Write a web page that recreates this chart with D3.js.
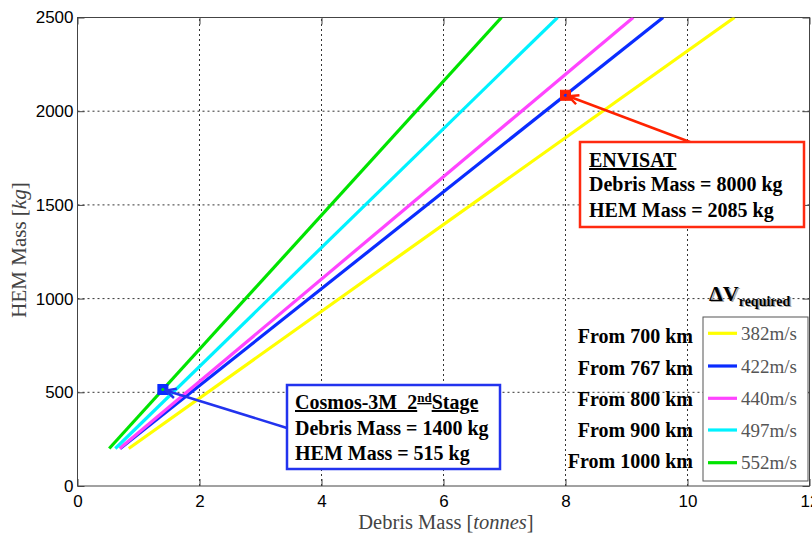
<!DOCTYPE html>
<html>
<head>
<meta charset="utf-8">
<script src="https://cdn.jsdelivr.net/npm/d3@7"></script>
<style>
  html, body { margin: 0; padding: 0; background: #fff; }
  svg { display: block; }
  text { white-space: pre; }
</style>
</head>
<body>
<svg id="chart" width="812" height="536"></svg>
<script>
// ---------------- data ----------------
const altitudeLabels = ["From 700 km", "From 767 km", "From 800 km", "From 900 km", "From 1000 km"];
const deltaVLabels = ["382m/s", "422m/s", "440m/s", "497m/s", "552m/s"];
// each series: [debris mass (tonnes), HEM mass (kg)] at both ends of its line
const series382 = [[0.84, 200], [10.77, 2500]];
const series422 = [[0.70, 200], [9.60, 2500]];
const series440 = [[0.69, 200], [9.11, 2500]];
const series497 = [[0.62, 200], [7.87, 2500]];
const series552 = [[0.52, 200], [6.95, 2500]];
const allSeries = [series382, series422, series440, series497, series552];
const xTicks = [0, 2, 4, 6, 8, 10, 12];
const yTicks = [0, 500, 1000, 1500, 2000, 2500];
const cosmosPoint = [1.4, 515];
const envisatPoint = [8.0, 2085];
const cosmosLines = ["Debris Mass = 1400 kg", "HEM Mass = 515 kg"];
const envisatLines = ["ENVISAT", "Debris Mass = 8000 kg", "HEM Mass = 2085 kg"];

// ---------------- styles ----------------
const colors = ["#ffff00", "#0a2cff", "#ff44ff", "#00f2ff", "#00e400"];
const serif = "'Liberation Serif', 'Times New Roman', serif";
const sans = "'Liberation Sans', Arial, sans-serif";

const svg = d3.select("#chart");
const x = d3.scaleLinear().domain([0, 12]).range([77.5, 809.5]);
const y = d3.scaleLinear().domain([0, 2500]).range([486, 17.5]);
const [x0, x1] = x.range();
const [y0, y1] = y.range();

svg.append("defs").append("clipPath").attr("id", "plotclip")
  .append("rect").attr("x", x0).attr("y", y1).attr("width", x1 - x0).attr("height", y0 - y1);

// grid
const grid = svg.append("g");
grid.selectAll(".vg").data(xTicks.slice(1, -1)).join("line")
  .attr("x1", d => x(d)).attr("x2", d => x(d)).attr("y1", y0).attr("y2", y1)
  .attr("stroke", "#333").attr("stroke-width", 1).attr("stroke-dasharray", "2,3");
grid.selectAll(".hg").data(yTicks.slice(1, -1)).join("line")
  .attr("y1", d => y(d)).attr("y2", d => y(d)).attr("x1", x0).attr("x2", x1)
  .attr("stroke", "#333").attr("stroke-width", 1).attr("stroke-dasharray", "2,3");

// axes (d3 axes, ticks drawn inward)
const fmt = d3.format("d");
const axB = svg.append("g").attr("transform", `translate(0,${y0})`)
  .call(d3.axisBottom(x).tickValues(xTicks).tickFormat(fmt).tickSize(-7).tickPadding(9).tickSizeOuter(0));
const axL = svg.append("g").attr("transform", `translate(${x0},0)`)
  .call(d3.axisLeft(y).tickValues(yTicks).tickFormat(fmt).tickSize(-7).tickPadding(4).tickSizeOuter(0));
const axT = svg.append("g").attr("transform", `translate(0,${y1})`)
  .call(d3.axisTop(x).tickValues(xTicks).tickSize(-7).tickFormat("").tickSizeOuter(0));
const axR = svg.append("g").attr("transform", `translate(${x1},0)`)
  .call(d3.axisRight(y).tickValues(yTicks).tickSize(-7).tickFormat("").tickSizeOuter(0));
[axB, axL, axT, axR].forEach(a => {
  a.select(".domain").remove();
  a.selectAll(".tick line").attr("stroke", "#444");
  a.selectAll("text").attr("font-family", sans).attr("font-size", 17).attr("fill", "#000");
});
svg.append("rect").attr("x", x0).attr("y", y1).attr("width", x1 - x0).attr("height", y0 - y1)
  .attr("fill", "none").attr("stroke", "#444").attr("stroke-width", 1);

// lines
const line = d3.line().x(d => x(d[0])).y(d => y(d[1]));
svg.append("g").attr("clip-path", "url(#plotclip)")
  .selectAll("path").data(allSeries).join("path")
  .attr("d", line).attr("fill", "none")
  .attr("stroke", (d, i) => colors[i]).attr("stroke-width", 3.2);

// markers
function marker(pt, fill, dot) {
  const g = svg.append("g").attr("transform", `translate(${x(pt[0])},${y(pt[1])})`);
  g.append("rect").attr("x", -5).attr("y", -5).attr("width", 10).attr("height", 10)
    .attr("fill", fill).attr("stroke", fill).attr("stroke-width", 1);
  g.append("circle").attr("r", 1.6).attr("fill", dot);
}
marker(cosmosPoint, "#0a2cff", "#00e400");
marker(envisatPoint, "#ff2200", "#0a2cff");

// arrows
function arrow(fromX, fromY, pt, color) {
  const tx = x(pt[0]) + 3, ty = y(pt[1]) + 1;
  svg.append("line").attr("x1", fromX).attr("y1", fromY).attr("x2", tx).attr("y2", ty)
    .attr("stroke", color).attr("stroke-width", 2.5);
  const ang = Math.atan2(fromY - ty, fromX - tx);
  const L = 11, spread = 0.45;
  const p1 = [tx + L * Math.cos(ang + spread), ty + L * Math.sin(ang + spread)];
  const p2 = [tx + L * Math.cos(ang - spread), ty + L * Math.sin(ang - spread)];
  svg.append("path").attr("d", `M${p1[0]},${p1[1]}L${tx},${ty}L${p2[0]},${p2[1]}`)
    .attr("fill", "none").attr("stroke", color).attr("stroke-width", 2.5);
}
arrow(690, 142, envisatPoint, "#ff2200");
arrow(287, 428, cosmosPoint, "#2233ee");

// ENVISAT box
svg.append("rect").attr("x", 580).attr("y", 142).attr("width", 224).attr("height", 85)
  .attr("fill", "#fff").attr("stroke", "#ff2a10").attr("stroke-width", 2.5);
const envBase = [167, 191, 217];
svg.append("g").selectAll("text").data(envisatLines).join("text")
  .attr("x", 589).attr("y", (d, i) => envBase[i])
  .attr("font-family", serif).attr("font-weight", "bold").attr("font-size", 20).attr("fill", "#000")
  .attr("text-decoration", (d, i) => i === 0 ? "underline" : null)
  .text(d => d);

// Cosmos box
svg.append("rect").attr("x", 287).attr("y", 385).attr("width", 213).attr("height", 84)
  .attr("fill", "#fff").attr("stroke", "#2233ee").attr("stroke-width", 2.5);
const cTitle = svg.append("text").attr("x", 295).attr("y", 409)
  .attr("font-family", serif).attr("font-weight", "bold").attr("font-size", 20).attr("fill", "#000")
  .attr("text-decoration", "underline");
cTitle.append("tspan").text("Cosmos-3M  2");
cTitle.append("tspan").attr("font-size", 13).attr("dy", -7).text("nd");
cTitle.append("tspan").attr("dy", 7).text("Stage");
const cosBase = [435, 460];
svg.append("g").selectAll("text").data(cosmosLines).join("text")
  .attr("x", 295).attr("y", (d, i) => cosBase[i])
  .attr("font-family", serif).attr("font-weight", "bold").attr("font-size", 20).attr("fill", "#000")
  .text(d => d);

// legend
svg.append("rect").attr("x", 703).attr("y", 317).attr("width", 105).attr("height", 164)
  .attr("fill", "#fff").attr("stroke", "#555").attr("stroke-width", 1);
const rowY = [333.3, 366, 398.3, 430, 462.7];
const leg = svg.append("g");
leg.selectAll("line").data(deltaVLabels).join("line")
  .attr("x1", 708).attr("x2", 737).attr("y1", (d, i) => rowY[i]).attr("y2", (d, i) => rowY[i])
  .attr("stroke", (d, i) => colors[i]).attr("stroke-width", 3.2);
leg.selectAll("text").data(deltaVLabels).join("text")
  .attr("x", 741).attr("y", (d, i) => rowY[i] + 6.7)
  .attr("font-family", serif).attr("font-size", 19).attr("fill", "#555")
  .text(d => d);
const altBase = [343.3, 375, 406, 436.7, 468.3];
svg.append("g").selectAll("text").data(altitudeLabels).join("text")
  .attr("x", 693).attr("y", (d, i) => altBase[i]).attr("text-anchor", "end")
  .attr("font-family", serif).attr("font-weight", "bold").attr("font-size", 20).attr("fill", "#000")
  .text(d => d);

// legend title with shadow
function dvTitle(dx, dy, fill) {
  const t = svg.append("text").attr("x", 709 + dx).attr("y", 300.7 + dy)
    .attr("font-family", serif).attr("font-weight", "bold").attr("font-size", 22).attr("fill", fill);
  t.append("tspan").text("ΔV");
  t.append("tspan").attr("font-size", 14).attr("dy", 5).text("required");
}
dvTitle(1.5, 1.5, "#aaa");
dvTitle(0, 0, "#000");

// axis labels
const xl = svg.append("text").attr("x", 446).attr("y", 529).attr("text-anchor", "middle")
  .attr("font-family", serif).attr("font-size", 20.5).attr("fill", "#444");
xl.append("tspan").text("Debris Mass [");
xl.append("tspan").attr("font-style", "italic").text("tonnes");
xl.append("tspan").text("]");

const yl = svg.append("text").attr("transform", "translate(26,250) rotate(-90)")
  .attr("text-anchor", "middle")
  .attr("font-family", serif).attr("font-size", 21).attr("fill", "#444");
yl.append("tspan").text("HEM Mass [");
yl.append("tspan").attr("font-style", "italic").text("kg");
yl.append("tspan").text("]");
</script>
</body>
</html>
